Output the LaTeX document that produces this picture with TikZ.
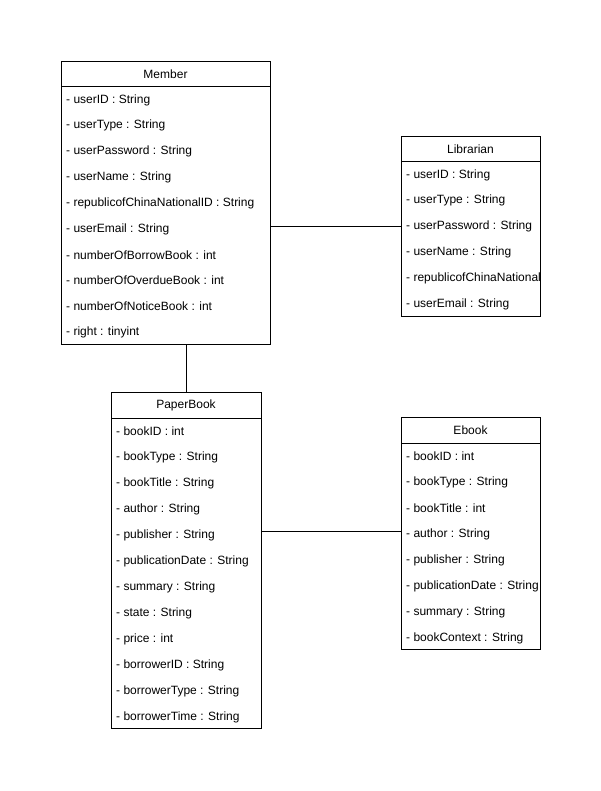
\documentclass[tikz,border=0pt]{standalone}
\usepackage{fontspec}
\setmainfont{Liberation Sans}
\tikzset{
  classbox/.style={draw=black, line width=1pt, fill=white, inner sep=0pt, anchor=north west},
  attr/.style={anchor=west, inner sep=0pt, font=\fontsize{12}{14}\selectfont},
  classtitle/.style={inner sep=0pt, font=\fontsize{12}{14}\selectfont},
  sep/.style={draw=black, line width=1pt},
  link/.style={draw=black, line width=1pt}
}
% #1 name, #2 title, #3 left, #4 top, #5 width, #6 height, #7 row height, #8 rows
\newcommand\umlclass[8]{%
  \node[classbox, minimum width=#5pt, minimum height=#6pt] (#1) at (#3,#4) {};
  \node[classtitle] (#1-title) at ({#3+#5/2},{#4+13}) {#2};
  \draw[sep] ({#3},{#4+26}) -- ({#3+#5},{#4+26});
  \begin{scope}
    \clip ({#3},{#4}) rectangle ({#3+#5-1},{#4+#6});
    \foreach \t [count=\i] in {#8}
      \node[attr] (#1-\i) at ({#3+5},{#4+39+(\i-1)*#7}) {\t};
  \end{scope}
}
\begin{document}
\begin{tikzpicture}[x=1pt,y=-1pt]
\useasboundingbox[fill=white] (0,0) rectangle (601,791);
\umlclass{member}{Member}{61}{61}{209}{283}{25.8}{- userID : String,- userType : String,- userPassword : String,- userName : String,- republicofChinaNationalID : String,- userEmail : String,- numberOfBorrowBook : int,- numberOfOverdueBook : int,- numberOfNoticeBook : int,- right : tinyint}
\umlclass{librarian}{Librarian}{401}{136}{139}{180}{25.8}{- userID : String,- userType : String,- userPassword : String,- userName : String,- republicofChinaNationalID : String,- userEmail : String}
\umlclass{paperbook}{PaperBook}{111}{392}{150}{336}{26}{- bookID : int,- bookType : String,- bookTitle : String,- author : String,- publisher : String,- publicationDate : String,- summary : String,- state : String,- price : int,- borrowerID : String,- borrowerType : String,- borrowerTime : String}
\umlclass{ebook}{Ebook}{401}{417}{139}{232}{26}{- bookID : int,- bookType : String,- bookTitle : int,- author : String,- publisher : String,- publicationDate : String,- summary : String,- bookContext : String}
\draw[link] (librarian.west) -- (librarian.west -| member.east);
\draw[link] (paperbook.north) -- (paperbook.north |- member.south);
\draw[link] ([yshift=2pt]ebook.west) -- ([yshift=2pt]ebook.west -| paperbook.east);
\end{tikzpicture}
\end{document}
